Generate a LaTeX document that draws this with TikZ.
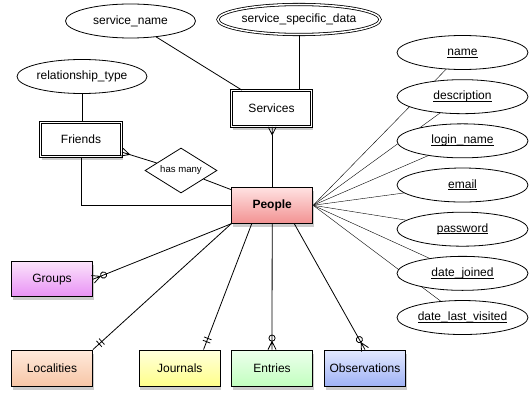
\documentclass[tikz,border=0pt]{standalone}
\usepackage{fontspec}
\setmainfont{Liberation Sans}
\usetikzlibrary{shapes.geometric,shadows,calc,arrows.meta,backgrounds}

% цвета сущностей (сверху светлее, снизу насыщеннее)
\definecolor{peopleTop}{HTML}{FFE2E2}
\definecolor{peopleBot}{HTML}{F29292}
\definecolor{grpTop}{HTML}{FBE3FB}
\definecolor{grpBot}{HTML}{E890F5}
\definecolor{locTop}{HTML}{FFEADC}
\definecolor{locBot}{HTML}{F7C6A6}
\definecolor{jrnTop}{HTML}{FFFFDC}
\definecolor{jrnBot}{HTML}{FFFF8A}
\definecolor{entTop}{HTML}{EDFFED}
\definecolor{entBot}{HTML}{C2FFBF}
\definecolor{obsTop}{HTML}{E3E9FF}
\definecolor{obsBot}{HTML}{9FB2F5}

% "многие" (воронья лапка)
\pgfdeclarearrow{
  name = Crow,
  parameters = {\the\pgfarrowlength,\the\pgfarrowwidth},
  setup code = {
    \pgfarrowssettipend{0pt}
    \pgfarrowssetlineend{-\pgfarrowlength}
    \pgfarrowssetbackend{-\pgfarrowlength}
    \pgfarrowssavethe\pgfarrowlength
    \pgfarrowssavethe\pgfarrowwidth
  },
  drawing code = {
    \pgfsetdash{}{0pt}
    \pgfpathmoveto{\pgfpoint{0pt}{.5\pgfarrowwidth}}
    \pgfpathlineto{\pgfpoint{-\pgfarrowlength}{0pt}}
    \pgfpathlineto{\pgfpoint{0pt}{-.5\pgfarrowwidth}}
    \pgfpathmoveto{\pgfpoint{-\pgfarrowlength}{0pt}}
    \pgfpathlineto{\pgfpoint{0pt}{0pt}}
    \pgfusepathqstroke
  },
  defaults = {length = 8pt, width = 8pt}
}

% "ровно один" (две черты)
\pgfdeclarearrow{
  name = OneOne,
  parameters = {\the\pgfarrowlength,\the\pgfarrowwidth},
  setup code = {
    \pgfarrowssettipend{0pt}
    \pgfarrowssetlineend{-\pgfarrowlength}
    \pgfarrowssetbackend{-\pgfarrowlength}
    \pgfarrowssavethe\pgfarrowlength
    \pgfarrowssavethe\pgfarrowwidth
  },
  drawing code = {
    \pgfsetdash{}{0pt}
    \pgfpathmoveto{\pgfpoint{-\pgfarrowlength}{0pt}}
    \pgfpathlineto{\pgfpoint{0pt}{0pt}}
    \pgfpathmoveto{\pgfpoint{-\pgfarrowlength}{.5\pgfarrowwidth}}
    \pgfpathlineto{\pgfpoint{-\pgfarrowlength}{-.5\pgfarrowwidth}}
    \pgfpathmoveto{\pgfpoint{-\pgfarrowlength+3.5pt}{.5\pgfarrowwidth}}
    \pgfpathlineto{\pgfpoint{-\pgfarrowlength+3.5pt}{-.5\pgfarrowwidth}}
    \pgfusepathqstroke
  },
  defaults = {length = 12pt, width = 8pt}
}

% подчёркивание по базовой линии, высота строки прежняя
\newcommand{\keyul}[1]{\smash{\underline{\smash{#1}}}\vphantom{hg}}

\begin{document}
\begin{tikzpicture}[x=1pt, y=-1pt, line width=0.8pt,
    font=\fontsize{12}{14}\selectfont,
    ent/.style={draw, minimum width=81pt, minimum height=36pt, inner sep=0pt,
      drop shadow={shadow xshift=1pt, shadow yshift=-3.5pt, opacity=.4}},
    weak/.style={ent, fill=white, double, double distance=1.5pt},
    attr/.style={ellipse, draw, fill=white, minimum width=130pt,
      minimum height=34pt, inner sep=0pt},
    many/.style={-{Crow}},
    zeromany/.style={-{Circle[open,length=7pt] Crow}},
    oneone/.style={-{OneOne}}]
    \useasboundingbox (0,0) rectangle (529,401);

    % --- СУЩНОСТИ ---
    \node[ent, top color=peopleTop, bottom color=peopleBot] (people) at (272.2,205.3) {\textbf{People}};
    \node[weak, minimum width=80pt, minimum height=36pt] (services) at (271.5,108.5) {Services};
    \node[weak, minimum width=81pt, minimum height=34pt] (friends) at (81,139.5) {Friends};
    \node[ent, top color=grpTop, bottom color=grpBot, minimum height=35pt] (groups) at (52,279.3) {Groups};
    \node[ent, top color=locTop, bottom color=locBot] (localities) at (52,368) {Localities};
    \node[ent, top color=jrnTop, bottom color=jrnBot] (journals) at (179.8,368) {Journals};
    \node[ent, top color=entTop, bottom color=entBot] (entries) at (272,368) {Entries};
    \node[ent, top color=obsTop, bottom color=obsBot] (observations) at (365,368) {Observations};

    % Связь "has many"
    \node[diamond, draw, fill=white, aspect=1.6, minimum width=72pt, minimum height=45pt,
      inner sep=0pt, font=\fontsize{9.6}{11}\selectfont] (hasmany) at (181,170.5) {has many};

    % --- АТРИБУТЫ ---
    \node[attr] (sname) at (130.5,21) {service\_name};
    \node[attr, double, double distance=1.5pt, minimum width=155pt, minimum height=30pt]
      (sdata) at (299,19.5) {service\_specific\_data};
    \node[attr] (reltype) at (82,76.5) {relationship\_type};
    % Атрибуты People (подчёркнуты), столбиком справа
    \foreach \nm/\txt [count=\i from 0] in {name/name, descr/description, login/login\_name,
        email/email, passwd/password, joined/date\_joined, visited/date\_last\_visited}
      \node[attr, minimum width=131pt] (\nm) at (462.5,52.5+44.17*\i) {\keyul{\txt}};

    % --- СВЯЗИ ---
    \draw (sname) -- (services);
    \draw (sdata.south) -- (sdata.south |- services.north);
    \draw (reltype) -- (reltype |- friends.north);
    \draw[many] (hasmany) -- (friends);
    \draw (hasmany) -- (people);
    \draw (friends.south) |- (people.west);
    \draw[many] (people.north) -- (people.north |- services.south);
    \draw[zeromany] (people.south west) -- (groups.east);
    \draw[oneone] (people.south west) -- (localities.north east);
    \draw[oneone] ($(people.south west)!.25!(people.south east)$)
      -- ($(journals.north west)!.79!(journals.north east)$);
    \draw[zeromany] (people.south) -- (entries.north);
    \draw[zeromany] ($(people.south west)!.77!(people.south east)$) -- (observations.north);

    % Линии к атрибутам уходят под овалы
    \begin{pgfonlayer}{background}
        \fill[white] (0,0) rectangle (529,401);
        \foreach \nm in {name,descr,login,email,passwd,joined,visited}
          \draw (people.east) -- (\nm.center);
    \end{pgfonlayer}

\end{tikzpicture}
\end{document}
